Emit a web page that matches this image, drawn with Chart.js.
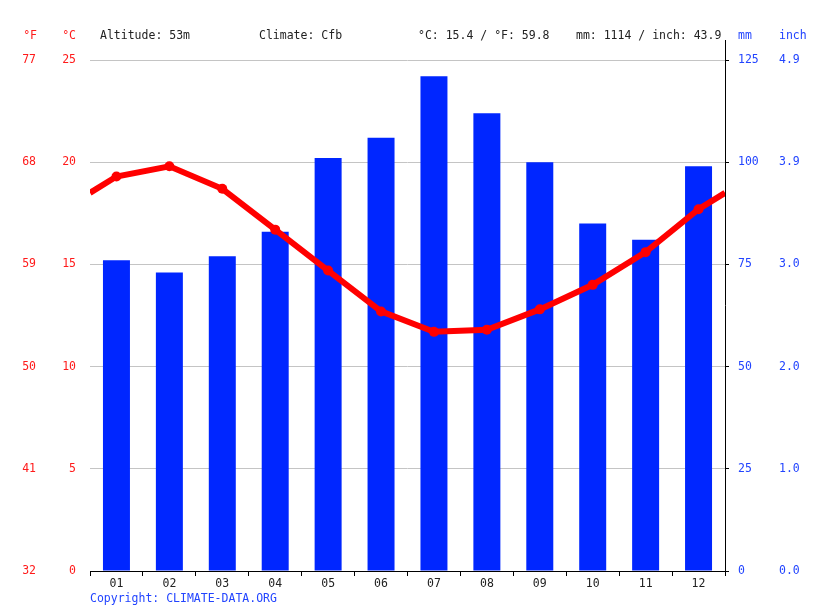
<!DOCTYPE html>
<html>
<head>
<meta charset="utf-8">
<script src="https://cdn.jsdelivr.net/npm/chart.js@4/dist/chart.umd.min.js"></script>
<style>
  html, body { margin: 0; padding: 0; background: #fff; }
  #wrap { width: 815px; height: 611px; }
</style>
</head>
<body>
<div id="wrap"><canvas id="climate" width="815" height="611"></canvas></div>
<script>
const months = ["01","02","03","04","05","06","07","08","09","10","11","12"];
const precipMm = [76, 73, 77, 83, 101, 106, 121, 112, 100, 85, 81, 99];
const tempC = [19.3, 19.8, 18.7, 16.7, 14.7, 12.7, 11.7, 11.8, 12.8, 14.0, 15.6, 17.7];
// value of the temperature line where it meets the left and right edge of the plot
const tempEdges = [18.5, 18.5];
const headerTexts = [
  { x: 100, text: "Altitude: 53m" },
  { x: 259, text: "Climate: Cfb" },
  { x: 418, text: "°C: 15.4 / °F: 59.8" },
  { x: 576, text: "mm: 1114 / inch: 43.9" }
];

const FONT = "DejaVu Sans Mono";
const RED = "#ff1a1a";
const BLUE = "#0026ff";
const BLUE_TXT = "#2244ff";

function fixWidth(w) { return scale => { scale.width = w; }; }

// temperature line points on a hidden linear x axis (0.5 .. 12.5)
const linePoints = [{ x: 0.5, y: tempEdges[0] }]
  .concat(tempC.map((t, i) => ({ x: i + 1, y: t })))
  .concat([{ x: 12.5, y: tempEdges[1] }]);

const decorations = {
  id: "decorations",
  afterDraw(chart) {
    const ctx = chart.ctx;
    const area = chart.chartArea;
    ctx.save();
    ctx.font = "11.5px '" + FONT + "'";
    ctx.textBaseline = "middle";

    ctx.fillStyle = RED;
    ctx.textAlign = "right";
    ctx.fillText("°F", 37, 36);
    ctx.fillText("°C", 76, 36);

    ctx.fillStyle = BLUE_TXT;
    ctx.textAlign = "left";
    ctx.fillText("mm", 738, 36);
    ctx.fillText("inch", 779, 36);

    ctx.fillStyle = "#222";
    headerTexts.forEach(h => ctx.fillText(h.text, h.x, 36));

    ctx.fillStyle = BLUE_TXT;
    ctx.fillText("Copyright: CLIMATE-DATA.ORG", 90, 599);

    // right axis line, running up past the plot top
    ctx.strokeStyle = "#000";
    ctx.lineWidth = 1;
    ctx.beginPath();
    ctx.moveTo(Math.round(area.right) + 0.5, 40);
    ctx.lineTo(Math.round(area.right) + 0.5, area.bottom);
    ctx.stroke();
    ctx.restore();
  }
};

new Chart(document.getElementById("climate"), {
  type: "bar",
  data: {
    labels: months,
    datasets: [
      {
        type: "line",
        label: "Temperature (°C)",
        data: linePoints,
        xAxisID: "xLine",
        yAxisID: "yC",
        borderColor: "#ff0000",
        backgroundColor: "#ff0000",
        borderWidth: 6,
        pointRadius: ctx => (ctx.dataIndex === 0 || ctx.dataIndex === linePoints.length - 1) ? 0 : 5,
        pointBorderWidth: 0,
        tension: 0,
        order: 0
      },
      {
        type: "bar",
        label: "Precipitation (mm)",
        data: precipMm,
        xAxisID: "x",
        yAxisID: "yMm",
        backgroundColor: BLUE,
        grouped: false,
        barPercentage: 0.51,
        categoryPercentage: 1,
        order: 1
      }
    ]
  },
  options: {
    responsive: false,
    animation: false,
    layout: { padding: { top: 60, bottom: 15, left: 0, right: 0 } },
    plugins: { legend: { display: false }, tooltip: { enabled: false } },
    scales: {
      x: {
        type: "category",
        offset: true,
        afterFit: scale => { scale.height = 25; },
        grid: { drawOnChartArea: false, drawTicks: true, tickLength: 5, color: "#000", offset: true },
        border: { display: true, color: "#000" },
        ticks: { color: "#222", font: { family: FONT, size: 11.5 }, padding: 1 }
      },
      xLine: {
        type: "linear",
        position: "bottom",
        min: 0.5,
        max: 12.5,
        offset: false,
        display: false
      },
      yC: {
        position: "left",
        weight: 0,
        min: 0,
        max: 25,
        afterFit: fixWidth(45),
        ticks: { stepSize: 5, color: RED, font: { family: FONT, size: 11.5 }, padding: 14 },
        grid: { drawTicks: false, color: c => c.tick.value === 0 ? "rgba(0,0,0,0)" : "#c4c4c4" },
        border: { display: false }
      },
      yF: {
        position: "left",
        weight: 1,
        min: 0,
        max: 25,
        afterFit: fixWidth(45),
        ticks: {
          stepSize: 5, color: RED, font: { family: FONT, size: 11.5 }, padding: 1,
          callback: v => String(Math.round(v * 9 / 5 + 32))
        },
        grid: { display: false },
        border: { display: false }
      },
      yMm: {
        position: "right",
        weight: 0,
        min: 0,
        max: 125,
        afterFit: fixWidth(45),
        ticks: { stepSize: 25, color: BLUE_TXT, font: { family: FONT, size: 11.5 }, padding: 9 },
        grid: { drawOnChartArea: false, drawTicks: true, tickLength: 4, color: "#000" },
        border: { display: false }
      },
      yIn: {
        position: "right",
        weight: 1,
        min: 0,
        max: 125,
        afterFit: fixWidth(45),
        ticks: {
          stepSize: 25, color: BLUE_TXT, font: { family: FONT, size: 11.5 }, padding: 1,
          callback: v => (v / 25.4).toFixed(1)
        },
        grid: { display: false },
        border: { display: false }
      }
    }
  },
  plugins: [decorations]
});
</script>
</body>
</html>
